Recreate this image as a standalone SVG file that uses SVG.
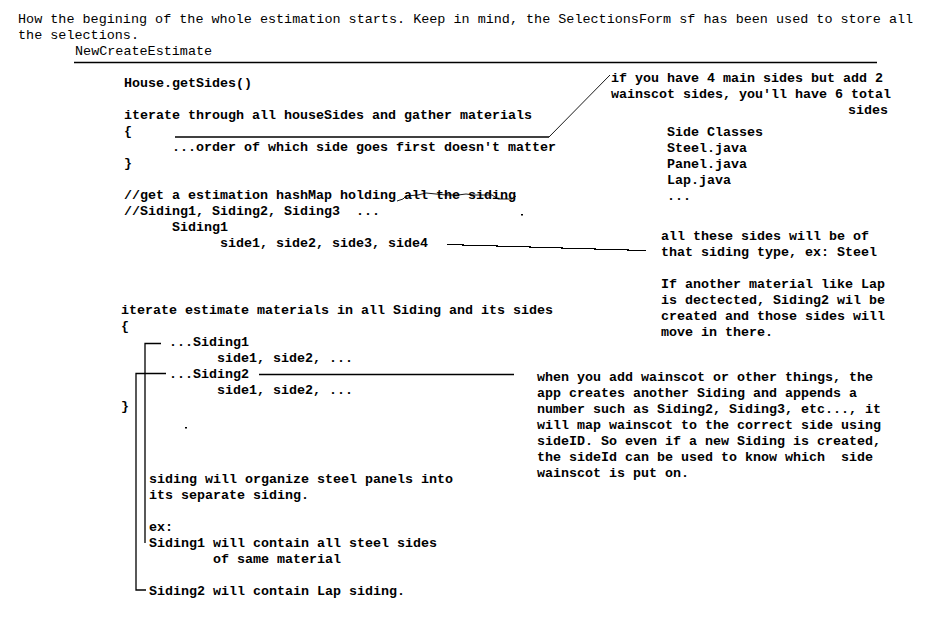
<svg xmlns="http://www.w3.org/2000/svg" width="930" height="634" viewBox="0 0 930 634">
<style>
text{font-family:"Liberation Mono","Courier New",monospace;font-size:13.33px;font-weight:bold;fill:#000;white-space:pre}
.hdr{font-weight:normal;font-size:13.45px}
.ln{stroke:#000;fill:none;stroke-width:1.3}
.thin{stroke:#000;fill:none;stroke-width:0.9}
</style>
<rect width="930" height="634" fill="#fff"/>
<g transform="translate(0,1)">
<g id="header">
<text class="hdr" x="18" y="22">How the begining of the whole estimation starts. Keep in mind, the SelectionsForm sf has been used to store all</text>
<text class="hdr" x="18" y="38">the selections.</text>
<text class="hdr" x="75" y="54">NewCreateEstimate</text>
</g>
<g id="getSides"><text x="124" y="86">House.getSides()</text></g>
<g id="iterateSides">
<text x="124" y="118">iterate through all houseSides and gather materials</text>
<text x="124" y="134">{</text>
<text x="172" y="150">...order of which side goes first doesn't matter</text>
<text x="124" y="166">}</text>
</g>
<g id="hashMap">
<text x="124" y="198">//get a estimation hashMap holding all the siding</text>
<text x="124" y="214">//Siding1, Siding2, Siding3  ...</text>
<text x="172" y="230">Siding1</text>
<text x="220" y="246">side1, side2, side3, side4</text>
</g>
<g id="note-total">
<text x="611" y="81">if you have 4 main sides but add 2</text>
<text x="611" y="97">wainscot sides, you'll have 6 total</text>
<text x="848" y="113">sides</text>
</g>
<g id="side-classes">
<text x="667" y="135">Side Classes</text>
<text x="667" y="151">Steel.java</text>
<text x="667" y="167">Panel.java</text>
<text x="667" y="183">Lap.java</text>
<text x="667" y="199">...</text>
</g>
<g id="note-type">
<text x="661" y="239">all these sides will be of</text>
<text x="661" y="255">that siding type, ex: Steel</text>
<text x="661" y="287">If another material like Lap</text>
<text x="661" y="303">is dectected, Siding2 wil be</text>
<text x="661" y="319">created and those sides will</text>
<text x="661" y="335">move in there.</text>
</g>
<g id="iterateEstimate">
<text x="121" y="313">iterate estimate materials in all Siding and its sides</text>
<text x="121" y="329">{</text>
<text x="169" y="345">...Siding1</text>
<text x="217" y="361">side1, side2, ...</text>
<text x="169" y="377">...Siding2</text>
<text x="217" y="393">side1, side2, ...</text>
<text x="121" y="409">}</text>
</g>
<g id="note-wainscot">
<text x="537" y="380">when you add wainscot or other things, the</text>
<text x="537" y="396">app creates another Siding and appends a</text>
<text x="537" y="412">number such as Siding2, Siding3, etc..., it</text>
<text x="537" y="428">will map wainscot to the correct side using</text>
<text x="537" y="444">sideID. So even if a new Siding is created,</text>
<text x="537" y="460">the sideId can be used to know which  side</text>
<text x="537" y="476">wainscot is put on.</text>
</g>
<g id="note-organize">
<text x="149" y="482">siding will organize steel panels into</text>
<text x="149" y="498">its separate siding.</text>
<text x="149" y="530">ex:</text>
<text x="149" y="546">Siding1 will contain all steel sides</text>
<text x="213" y="562">of same material</text>
<text x="149" y="594">Siding2 will contain Lap siding.</text>
</g>
</g>
<g id="connectors">
<line class="ln" x1="74" y1="62.5" x2="877" y2="62.5"/>
<polyline class="ln" points="175,137 549,137"/>
<polyline class="thin" points="549,137 610,75"/>
<polyline class="thin" points="397,201 403,199 406,196 418,195 426,193 436,194 446,195 458,195 466,194 474,195 492,195 498,199 512,199 516,196"/>
<polyline class="ln" shape-rendering="crispEdges" points="447,244.5 463,244.5 463,245.5 497,245.5 497,246.5 530,246.5 530,247.5 562,247.5 562,248.5 595,248.5 595,249.5 628,249.5 628,250.5 646,250.5"/>
<polyline class="ln" points="161,343.5 145,343.5 145,543"/>
<polyline class="ln" points="166,373.5 136,373.5 136,590 146,590"/>
<line class="ln" x1="259" y1="374.5" x2="514" y2="374.5"/>
<rect x="521" y="214" width="2" height="1.5" fill="#000"/>
<rect x="185" y="427" width="2" height="1.5" fill="#000"/>
</g>
</svg>
